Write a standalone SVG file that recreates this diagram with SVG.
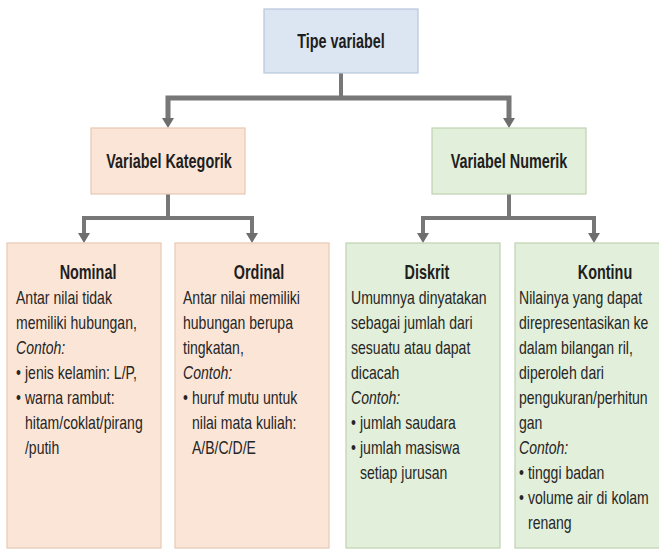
<svg xmlns="http://www.w3.org/2000/svg" xmlns:xlink="http://www.w3.org/1999/xlink" width="659" height="551" viewBox="0 0 659 551">
  <style>
    .blue { fill: #dce6f2; stroke: #b7c6dc; stroke-width: 1.2; }
    .peach { fill: #fbe5d6; stroke: #e8c9b4; stroke-width: 1.2; }
    .green { fill: #e2efda; stroke: #bfd3b1; stroke-width: 1.2; }
    .title { font-family: "Liberation Sans", Arial, sans-serif; font-weight: bold; font-size: 20px; fill: #1e1e1e; text-anchor: middle; }
    .body { font-family: "Liberation Sans", Arial, sans-serif; font-size: 18px; fill: #262626; }
    .it { font-style: italic; }
    .conn { fill: none; stroke: #777777; stroke-width: 4; stroke-linejoin: miter; }
    .bar { stroke-width: 5; }
    .head { fill: #6e6e6e; }
  </style>
  <defs>
    <path id="head" d="M-6,-10 L6,-10 L0,0 Z"/>
  </defs>

  <!-- connectors -->
  <g id="connectors">
    <path class="conn" d="M341,73 V98"/>
    <path class="conn bar" d="M168,120 V98 H509 V120"/>
    <use xlink:href="#head" class="head" x="168" y="128"/>
    <use xlink:href="#head" class="head" x="509" y="128"/>

    <path class="conn" d="M168,194 V218"/>
    <path class="conn" d="M84,235 V218 H252 V235"/>
    <use xlink:href="#head" class="head" x="84" y="243"/>
    <use xlink:href="#head" class="head" x="252" y="243"/>

    <path class="conn" d="M509,194 V218"/>
    <path class="conn" d="M423,235 V218 H594 V235"/>
    <use xlink:href="#head" class="head" x="423" y="243"/>
    <use xlink:href="#head" class="head" x="594" y="243"/>
  </g>

  <!-- root -->
  <g id="tipe-variabel">
    <rect class="blue" x="264" y="9" width="154" height="64"/>
    <text class="title" transform="translate(341,48) scale(0.72,1)">Tipe variabel</text>
  </g>

  <!-- second level -->
  <g id="variabel-kategorik">
    <rect class="peach" x="91" y="128" width="154" height="66"/>
    <text class="title" transform="translate(169,168) scale(0.72,1)">Variabel Kategorik</text>
  </g>
  <g id="variabel-numerik">
    <rect class="green" x="432" y="128" width="154" height="66"/>
    <text class="title" transform="translate(509,168) scale(0.72,1)">Variabel Numerik</text>
  </g>

  <!-- leaves -->
  <g id="nominal">
    <rect class="peach" x="7" y="243" width="154" height="305"/>
    <text class="title" transform="translate(88,279) scale(0.72,1)">Nominal</text>
    <g class="body" transform="translate(16,0) scale(0.78,1)">
      <text x="0" y="304">Antar nilai tidak</text>
      <text x="0" y="329">memiliki hubungan,</text>
      <text x="0" y="354" class="it">Contoh:</text>
      <text x="0" y="379">•</text><text x="11.5" y="379">jenis kelamin: L/P,</text>
      <text x="0" y="404">•</text><text x="11.5" y="404">warna rambut:</text>
      <text x="11.5" y="429">hitam/coklat/pirang</text>
      <text x="11.5" y="454">/putih</text>
    </g>
  </g>

  <g id="ordinal">
    <rect class="peach" x="175" y="243" width="154" height="305"/>
    <text class="title" transform="translate(259,279) scale(0.72,1)">Ordinal</text>
    <g class="body" transform="translate(183,0) scale(0.78,1)">
      <text x="0" y="304">Antar nilai memiliki</text>
      <text x="0" y="329">hubungan berupa</text>
      <text x="0" y="354">tingkatan,</text>
      <text x="0" y="379" class="it">Contoh:</text>
      <text x="0" y="404">•</text><text x="11.5" y="404">huruf mutu untuk</text>
      <text x="11.5" y="429">nilai mata kuliah:</text>
      <text x="11.5" y="454">A/B/C/D/E</text>
    </g>
  </g>

  <g id="diskrit">
    <rect class="green" x="346" y="243" width="154" height="305"/>
    <text class="title" transform="translate(427,279) scale(0.72,1)">Diskrit</text>
    <g class="body" transform="translate(351,0) scale(0.78,1)">
      <text x="0" y="304">Umumnya dinyatakan</text>
      <text x="0" y="329">sebagai jumlah dari</text>
      <text x="0" y="354">sesuatu atau dapat</text>
      <text x="0" y="379">dicacah</text>
      <text x="0" y="404" class="it">Contoh:</text>
      <text x="0" y="429">•</text><text x="11.5" y="429">jumlah saudara</text>
      <text x="0" y="454">•</text><text x="11.5" y="454">jumlah masiswa</text>
      <text x="11.5" y="479">setiap jurusan</text>
    </g>
  </g>

  <g id="kontinu">
    <rect class="green" x="515" y="243" width="158" height="305"/>
    <text class="title" transform="translate(605,279) scale(0.72,1)">Kontinu</text>
    <g class="body" transform="translate(519,0) scale(0.78,1)">
      <text x="0" y="304">Nilainya yang dapat</text>
      <text x="0" y="329">direpresentasikan ke</text>
      <text x="0" y="354">dalam bilangan ril,</text>
      <text x="0" y="379">diperoleh dari</text>
      <text x="0" y="404">pengukuran/perhitun</text>
      <text x="0" y="429">gan</text>
      <text x="0" y="454" class="it">Contoh:</text>
      <text x="0" y="479">•</text><text x="11.5" y="479">tinggi badan</text>
      <text x="0" y="504">•</text><text x="11.5" y="504">volume air di kolam</text>
      <text x="11.5" y="529">renang</text>
    </g>
  </g>
</svg>
